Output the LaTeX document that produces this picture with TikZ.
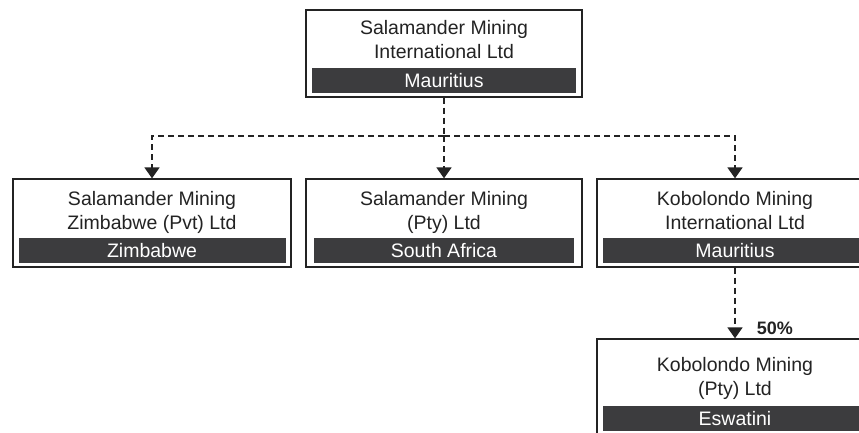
\documentclass[tikz,border=0pt]{standalone}
\usepackage{fontspec}
\setmainfont{Liberation Sans}
\definecolor{bandgrey}{RGB}{60,60,62}
\definecolor{inkgrey}{RGB}{35,35,35}
\usetikzlibrary{positioning, arrows.meta}

\begin{document}
\begin{tikzpicture}[
        x=1pt, y=1pt,
        entity/.style={rectangle, draw=inkgrey, line width=1.3pt, fill=white, minimum width=276pt, minimum height=88pt, inner sep=0pt},
        entname/.style={align=center, inner sep=0pt, text=inkgrey, font=\fontsize{19.5}{24}\selectfont},
        band/.style={rectangle, fill=bandgrey, text=white, minimum width=264pt, minimum height=25pt, inner sep=0pt, font=\fontsize{19.5}{24}\selectfont},
        link/.style={draw=inkgrey, line width=1.8pt, dash pattern=on 6pt off 4pt},
        arrow/.style={link, -{Triangle[width=15pt, length=11pt]}},
        pct/.style={font=\fontsize{18}{20}\selectfont\bfseries, text=inkgrey, inner sep=0pt}
    ]
        \useasboundingbox (0,0) rectangle (859,-432);
        \fill[white] (0,0) rectangle (859,-432);
        \clip (0,0) rectangle (859,-432);

        % Holding company
        \node[entity, minimum height=87pt] (SMI) at (444,-53.5) {};
        \node[entname, below=10.8pt of SMI.north] (SMI_N) {Salamander Mining\\International Ltd};
        \node[band, above=4pt of SMI.south] (SMI_C) {Mauritius};

        % Subsidiaries
        \node[entity, minimum width=278pt] (SMZ) at (152,-223) {};
        \node[entname, below=12.8pt of SMZ.north] (SMZ_N) {Salamander Mining\\Zimbabwe (Pvt) Ltd};
        \node[band, minimum width=267pt, above=4.5pt of SMZ.south] (SMZ_C) {Zimbabwe};

        \node[entity] (SMP) at (444,-223) {};
        \node[entname, below=12.8pt of SMP.north] (SMP_N) {Salamander Mining\\(Pty) Ltd};
        \node[band, minimum width=260pt, above=4.5pt of SMP.south] (SMP_C) {South Africa};

        \node[entity] (KMI) at (735,-223) {};
        \node[entname, below=12.8pt of KMI.north] (KMI_N) {Kobolondo Mining\\International Ltd};
        \node[band, above=4.5pt of KMI.south] (KMI_C) {Mauritius};

        % Joint venture
        \node[entity, minimum height=96pt] (KMP) at (735,-387) {};
        \node[entname, below=18.8pt of KMP.north] (KMP_N) {Kobolondo Mining\\(Pty) Ltd};
        \node[band, above=4pt of KMP.south] (KMP_C) {Eswatini};

        % Ownership links
        \coordinate (BUS) at (444,-136);
        \draw[link] (SMI.south) -- (BUS);
        \draw[arrow] (BUS) -| (SMZ.north);
        \draw[arrow] (BUS) -- (SMP.north);
        \draw[arrow] (BUS) -| (KMI.north);
        \draw[arrow] (KMI.south) -- (KMP.north)
            node[pct, pos=1, anchor=base west, xshift=21pt, yshift=4pt] (KMP_P) {50\%};
    \end{tikzpicture}
\end{document}
